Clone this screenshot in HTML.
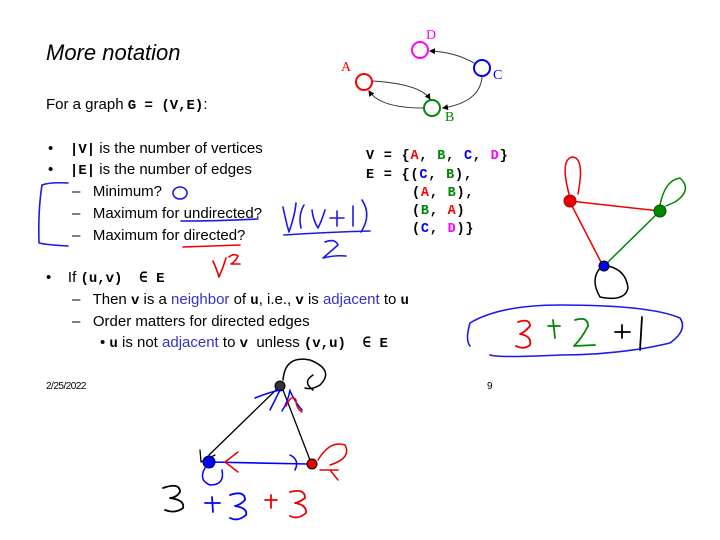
<!DOCTYPE html>
<html><head><meta charset="utf-8"><style>
body{margin:0;width:720px;height:540px;background:#fff;position:relative;overflow:hidden;font-family:"Liberation Sans",sans-serif;color:#000}
.t{position:absolute;white-space:nowrap;font-size:15px;line-height:16px;letter-spacing:0}
.m{font-family:"Liberation Mono",monospace;font-weight:bold;letter-spacing:0;font-size:14px}
.b{color:#3333cc}
.mm{position:absolute;white-space:nowrap;font-family:"Liberation Mono",monospace;font-weight:bold;font-size:13.5px;line-height:16px;letter-spacing:0.8px}
.r{color:#f00}.g{color:#080}.bl{color:#00f}.mg{color:#f0f}
svg{position:absolute;left:0;top:0}
</style></head><body>
<div class="t" style="left:46px;top:40px;font-size:22px;line-height:26px;font-style:italic;letter-spacing:0">More notation</div>
<div class="t" style="left:46px;top:97px">For a graph <span class="m">G = (V,E)</span>:</div>
<div class="t" style="left:48px;top:141px">•&nbsp;&nbsp;&nbsp; <span class="m">|V|</span> is the number of vertices</div>
<div class="t" style="left:48px;top:162px">•&nbsp;&nbsp;&nbsp; <span class="m">|E|</span> is the number of edges</div>
<div class="t" style="left:72px;top:184px">–&nbsp;&nbsp; Minimum?</div>
<div class="t" style="left:72px;top:206px">–&nbsp;&nbsp; Maximum for undirected?</div>
<div class="t" style="left:72px;top:228px">–&nbsp;&nbsp; Maximum for directed?</div>
<div class="t" style="left:46px;top:270px">•&nbsp;&nbsp;&nbsp; If <span class="m">(u,v) &nbsp;∈ E</span></div>
<div class="t" style="left:72px;top:292px">–&nbsp;&nbsp; Then <span class="m">v</span> is a <span class="b">neighbor</span> of <span class="m">u</span>, i.e., <span class="m">v</span> is <span class="b">adjacent</span> to <span class="m">u</span></div>
<div class="t" style="left:72px;top:314px">–&nbsp;&nbsp; Order matters for directed edges</div>
<div class="t" style="left:100px;top:335px">• <span class="m">u</span> is not <span class="b">adjacent</span> to <span class="m">v</span> &nbsp;unless <span class="m">(v,u) &nbsp;∈ E</span></div>
<div class="t" style="left:46px;top:379px;font-size:10px;letter-spacing:-0.5px">2/25/2022</div>
<div class="t" style="left:487px;top:379px;font-size:10px">9</div>

<div class="mm" style="left:366px;top:149px">V = {<span class="r">A</span>, <span class="g">B</span>, <span class="bl">C</span>, <span class="mg">D</span>}</div>
<div class="mm" style="left:366px;top:168px">E = {(<span class="bl">C</span>, <span class="g">B</span>),</div>
<div class="mm" style="left:412px;top:186px">(<span class="r">A</span>, <span class="g">B</span>),</div>
<div class="mm" style="left:412px;top:204px">(<span class="g">B</span>, <span class="r">A</span>)</div>
<div class="mm" style="left:412px;top:222px">(<span class="bl">C</span>, <span class="mg">D</span>)}</div>

<div class="t" style="left:426px;top:28px;font-family:'Liberation Serif',serif;color:#f0f;font-size:14px">D</div>
<div class="t" style="left:341px;top:60px;font-family:'Liberation Serif',serif;color:#f00;font-size:14px">A</div>
<div class="t" style="left:493px;top:68px;font-family:'Liberation Serif',serif;color:#00f;font-size:14px">C</div>
<div class="t" style="left:445px;top:110px;font-family:'Liberation Serif',serif;color:#080;font-size:14px">B</div>

<svg width="720" height="540" fill="none" stroke-linecap="round" stroke-linejoin="round">
<defs><marker id="ar" markerWidth="6" markerHeight="6" refX="5" refY="3" orient="auto"><path d="M0,0L6,3L0,6z" fill="#000" stroke="none"/></marker></defs>
<circle cx="420" cy="50" r="8" stroke="#f0f" stroke-width="2"/>
<circle cx="482" cy="68" r="8" stroke="#00f" stroke-width="2"/>
<circle cx="364" cy="82" r="8" stroke="#f00" stroke-width="2"/>
<circle cx="432" cy="108" r="8" stroke="#080" stroke-width="2"/>
<path d="M474,63 Q455,52 430,51" stroke="#333" marker-end="url(#ar)"/>
<path d="M482,77 Q480,102 443,108" stroke="#333" marker-end="url(#ar)"/>
<path d="M373,81 Q420,84 430,99" stroke="#333" marker-end="url(#ar)"/>
<path d="M423,108 Q380,108 369,91" stroke="#333" marker-end="url(#ar)"/>
<g stroke="#1a1aee" stroke-width="1.6">
<path d="M68,183 Q50,182 42,185 Q38,210 39,243 Q48,245 68,246"/>
<ellipse cx="180" cy="193" rx="7" ry="6"/>
<path d="M181,221 Q220,221 258,219"/>
<path d="M283,207 Q286,222 289,232 Q295,215 296,203 M304,205 Q298,215 301,228 M312,210 Q313,220 318,228 Q322,220 325,210 M330,218 L344,218 M337,211 L337,226 M353,206 L353,226 M362,200 Q372,215 361,232 M284,235 Q330,232 370,231 M325,242 Q335,238 338,245 Q330,252 323,258 Q335,255 346,256"/>
<path d="M470,323 Q500,305 560,305 Q650,305 680,318 Q688,330 670,343 Q620,355 560,355 Q500,358 490,355 M470,323 Q465,340 470,346"/>
</g>
<g stroke="#e00" stroke-width="1.6">
<path d="M183,247 Q215,246 240,245 M213,261 Q217,270 219,277 Q223,268 226,258 M229,257 Q234,253 238,256 Q235,262 231,264 L240,264"/>
</g>
<path d="M569,194 Q560,160 572,157 Q585,157 578,194" stroke="#e00" stroke-width="1.5"/>
<path d="M570,201 L660,211 M572,206 L602,264" stroke="#e00" stroke-width="1.5"/>
<path d="M660,211 L606,264" stroke="#080" stroke-width="1.5"/>
<path d="M660,205 Q665,180 680,178 Q693,190 675,202 L666,206" stroke="#080" stroke-width="1.5"/>
<path d="M600,268 Q590,280 600,297 Q625,302 628,288 Q626,270 608,266" stroke="#000" stroke-width="1.5"/>
<circle cx="570" cy="201" r="6" fill="#e00" stroke="#a00"/><circle cx="660" cy="211" r="6" fill="#080" stroke="#050"/><circle cx="604" cy="266" r="5" fill="#00f" stroke="#000"/>
<g stroke-width="1.8">
<path d="M518,322 Q530,318 530,326 Q525,332 520,334 Q532,336 530,345 Q524,350 516,346" stroke="#e00"/>
<path d="M548,326 L560,326 M553,320 L555,338" stroke="#080"/>
<path d="M575,320 Q588,316 588,326 Q582,338 574,346 L595,345" stroke="#080"/>
<path d="M615,332 L630,332 M622,325 L622,338 M642,317 L640,350" stroke="#000"/>
</g>
<path d="M280,386 L209,455 M283,390 L310,460" stroke="#000" stroke-width="1.3"/>
<path d="M210,462 L308,464" stroke="#00f" stroke-width="1.6"/>
<path d="M283,380 Q285,355 310,360 Q335,370 320,385 Q312,390 305,388 M313,375 Q302,382 313,390" stroke="#000" stroke-width="1.5"/>
<path d="M200,450 L201,462 L215,455" stroke="#000" stroke-width="1.3"/>
<circle cx="280" cy="386" r="5" fill="#333" stroke="#000"/>
<path d="M255,398 Q270,392 280,390 M270,410 Q275,400 280,390 M290,390 Q288,402 282,411 M290,391 Q295,402 302,410" stroke="#00f" stroke-width="1.5"/>
<path d="M286,406 Q292,393 296,400 Q296,408 302,412" stroke="#e00" stroke-width="1.5"/>
<circle cx="209" cy="462" r="6" fill="#00f" stroke="#003"/>
<path d="M205,468 Q198,480 210,485 Q225,485 222,470" stroke="#00f" stroke-width="1.5"/>
<path d="M238,452 L225,462 L238,472" stroke="#e00" stroke-width="1.5"/>
<path d="M290,455 Q300,460 295,470" stroke="#00f" stroke-width="1.5"/>
<circle cx="312" cy="464" r="5" fill="#e00" stroke="#000"/>
<path d="M318,460 Q330,440 345,445 Q352,458 330,465 M320,470 L338,470 M330,470 L338,480" stroke="#e00" stroke-width="1.5"/>
<g stroke-width="1.8">
<path d="M163,488 Q180,482 180,492 Q176,498 170,498 Q185,500 183,508 Q175,514 165,510" stroke="#000"/>
<path d="M205,503 L220,503 M212,497 L213,512" stroke="#00f"/>
<path d="M230,495 Q245,490 245,500 Q240,505 235,506 Q248,508 246,515 Q238,522 230,518" stroke="#00f"/>
<path d="M265,500 L277,500 M271,495 L271,508" stroke="#e00"/>
<path d="M290,492 Q305,488 305,498 Q300,502 295,503 Q307,505 306,513 Q298,520 290,516" stroke="#e00"/>
</g>
</svg>
</body></html>
